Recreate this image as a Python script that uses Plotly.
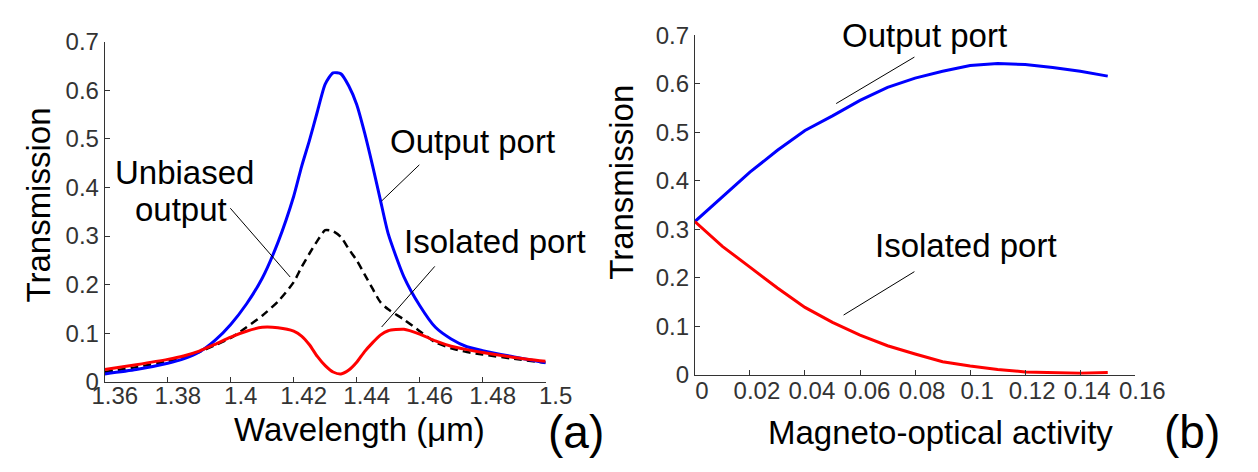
import plotly.graph_objects as go

# ---------------- data: panel (a) ----------------
wavelength = [1.36, 1.37, 1.38, 1.385, 1.39, 1.395, 1.40, 1.405, 1.41, 1.415, 1.42,
              1.4225, 1.425, 1.4275, 1.43, 1.4325, 1.435, 1.4375, 1.44, 1.4425, 1.445,
              1.4475, 1.45, 1.455, 1.46, 1.465, 1.47, 1.475, 1.48, 1.49, 1.50]
output_port_a = [0.016, 0.025, 0.038, 0.047, 0.061, 0.085, 0.118, 0.160, 0.213, 0.287, 0.382,
                 0.443, 0.497, 0.556, 0.613, 0.636, 0.634, 0.609, 0.571, 0.513, 0.446,
                 0.375, 0.305, 0.216, 0.157, 0.112, 0.088, 0.072, 0.064, 0.051, 0.039]
unbiased_a = [0.020, 0.030, 0.042, 0.050, 0.061, 0.075, 0.090, 0.112, 0.136, 0.165, 0.205,
              0.236, 0.264, 0.290, 0.312, 0.310, 0.298, 0.273, 0.250, 0.221, 0.192,
              0.164, 0.149, 0.128, 0.104, 0.081, 0.069, 0.061, 0.056, 0.047, 0.039]
isolated_a = [0.025, 0.035, 0.046, 0.053, 0.063, 0.077, 0.092, 0.104, 0.112, 0.111, 0.104,
              0.094, 0.076, 0.052, 0.033, 0.020, 0.016, 0.024, 0.040, 0.062, 0.080,
              0.096, 0.105, 0.108, 0.098, 0.084, 0.073, 0.066, 0.060, 0.050, 0.042]
xticks_a = [1.36, 1.38, 1.40, 1.42, 1.44, 1.46, 1.48, 1.50]
xticklabels_a = ["1.36", "1.38", "1.4", "1.42", "1.44", "1.46", "1.48", "1.5"]

# ---------------- data: panel (b) ----------------
mo_activity = [0.00, 0.01, 0.02, 0.03, 0.04, 0.05, 0.06, 0.07, 0.08, 0.09, 0.10,
               0.11, 0.12, 0.13, 0.14, 0.15]
output_port_b = [0.316, 0.368, 0.418, 0.463, 0.504, 0.534, 0.566, 0.593, 0.612, 0.626, 0.638,
                 0.642, 0.640, 0.634, 0.626, 0.616]
isolated_b = [0.316, 0.265, 0.222, 0.179, 0.139, 0.108, 0.082, 0.060, 0.043, 0.027, 0.018,
              0.011, 0.006, 0.004, 0.003, 0.005]
xticks_b = [0, 0.02, 0.04, 0.06, 0.08, 0.10, 0.12, 0.14, 0.16]
xticklabels_b = ["0", "0.02", "0.04", "0.06", "0.08", "0.1", "0.12", "0.14", "0.16"]

yticks = [0, 0.1, 0.2, 0.3, 0.4, 0.5, 0.6, 0.7]
yticklabels = ["0", "0.1", "0.2", "0.3", "0.4", "0.5", "0.6", "0.7"]

W, H = 1258, 472
FONT = "Liberation Sans, Arial, Helvetica, sans-serif"


def px(x):
    return x / W


def py(y):
    return 1 - y / H


fig = go.Figure()
fig.add_trace(go.Scatter(x=wavelength, y=unbiased_a, mode="lines", xaxis="x", yaxis="y",
                         line=dict(color="black", width=2.5, dash="8px,5px", shape="spline", smoothing=0.6)))
fig.add_trace(go.Scatter(x=wavelength, y=output_port_a, mode="lines", xaxis="x", yaxis="y",
                         line=dict(color="#0000ff", width=3, shape="spline", smoothing=0.6)))
fig.add_trace(go.Scatter(x=wavelength, y=isolated_a, mode="lines", xaxis="x", yaxis="y",
                         line=dict(color="#ff0000", width=3, shape="spline", smoothing=0.6)))
fig.add_trace(go.Scatter(x=mo_activity, y=output_port_b, mode="lines", xaxis="x2", yaxis="y2",
                         line=dict(color="#0000ff", width=3)))
fig.add_trace(go.Scatter(x=mo_activity, y=isolated_b, mode="lines", xaxis="x2", yaxis="y2",
                         line=dict(color="#ff0000", width=3)))

axis_common = dict(showline=True, linecolor="#333333", linewidth=1, ticks="inside", ticklen=5,
                   tickcolor="#333333", tickwidth=1, showgrid=False, zeroline=False,
                   tickfont=dict(family=FONT, size=24, color="#333333"), fixedrange=True)

fig.update_layout(
    width=W, height=H, margin=dict(l=0, r=0, t=0, b=0),
    paper_bgcolor="white", plot_bgcolor="white", showlegend=False,
    xaxis=dict(domain=[px(95), px(551.5)], range=[1.36, 1.5], anchor="y",
               tickvals=xticks_a, ticktext=xticklabels_a, ticklabelshift=10,
               ticklabelstandoff=-7, **axis_common),
    yaxis=dict(domain=[py(390), py(29.5)], range=[0, 0.7], anchor="x",
               tickvals=yticks, ticktext=yticklabels, **axis_common),
    xaxis2=dict(domain=[px(706), px(1162)], range=[0, 0.16], anchor="y2",
                tickvals=xticks_b, ticktext=xticklabels_b, ticklabelshift=7,
                ticklabelstandoff=-6, **axis_common),
    yaxis2=dict(domain=[py(382.7), py(22.7)], range=[0, 0.7], anchor="x2",
                tickvals=yticks, ticktext=yticklabels, **axis_common),
)

texts = [
    # (text, x_px, y_px, size, angle)
    ("Transmission", 26, 203, 33, -90),
    ("Wavelength (\u03bcm)", 359, 441, 33, 0),
    ("(a)", 583, 443, 46, 0),
    ("Unbiased", 178, 168.5, 33, 0),
    ("output", 173.5, 207.5, 33, 0),
    ("Output port", 476, 135, 33, 0),
    ("Isolated port", 499, 241.7, 33, 0),
    ("Transmission", 630, 178.5, 33, -90),
    ("Magneto-optical activity", 960, 444, 33, 0),
    ("(b)", 1220.5, 443, 46, 0),
    ("Output port", 944, 23.3, 33, 0),
    ("Isolated port", 986.5, 246, 33, 0),
]
for t, x, y, s, a in texts:
    fig.add_annotation(text=t, x=px(x), y=py(y), xref="paper", yref="paper",
                       xanchor="center", yanchor="middle", showarrow=False, textangle=a,
                       font=dict(family=FONT, size=s, color="black"))

leaders = [
    (225, 206, 287, 279),
    (420.7, 160, 381.7, 198.3),
    (436.7, 267.7, 381.7, 332),
    (933.3, 45.7, 852.3, 95),
    (933.3, 273.3, 860, 319.3),
]
for x0, y0, x1, y1 in leaders:
    fig.add_shape(type="line", xref="paper", yref="paper",
                  x0=px(x0), y0=py(y0), x1=px(x1), y1=py(y1),
                  line=dict(color="black", width=1))

fig.write_html("out.html", config={"displayModeBar": False})
